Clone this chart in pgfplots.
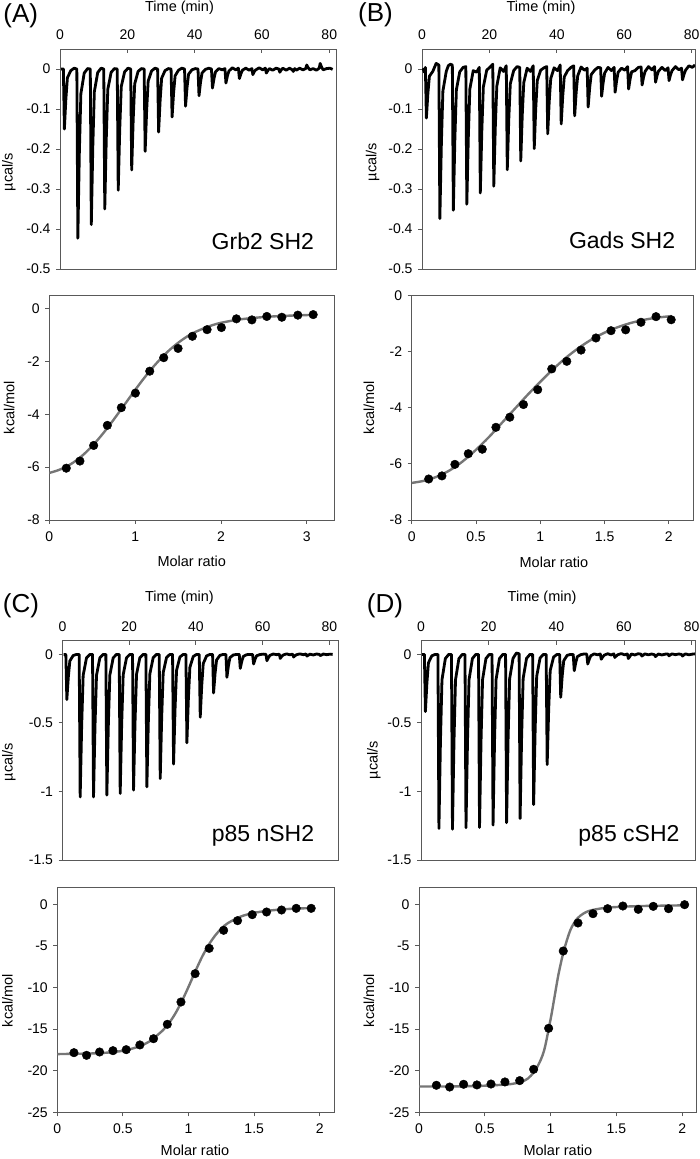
\documentclass[border=0pt]{standalone}
\usepackage{fontspec}
\setmainfont{Liberation Sans}
\usepackage{pgfplots}
\pgfplotsset{compat=1.18}
\definecolor{axgray}{RGB}{89,89,89}
\definecolor{fitgray}{RGB}{118,118,118}
\newcommand{\lblfont}{\fontsize{14.5}{17}\selectfont}
\pgfplotsset{
  every axis/.append style={
    scale only axis,
    axis line style={draw=axgray, line width=0.9pt},
    every tick/.style={draw=axgray, line width=0.9pt},
    major tick length=4pt,
    tick label style={font=\fontsize{14}{16}\selectfont},
    /pgf/number format/assume math mode=true,
    clip=true,
  },
  thermo/.style={
    width=276pt, height=220pt,
    xmin=0, ymin=-0.5, ymax=0.05,
    xtick={0,20,40,60,80},
    ytick={-0.5,-0.4,-0.3,-0.2,-0.1,0},
    xtick pos=upper, xticklabel pos=upper, ytick pos=left,
    tick align=inside,
    major y tick style={xshift=-4pt},
    xticklabel style={yshift=6pt},
    yticklabel style={xshift=-6pt},
    xlabel={Time (min)},
    ylabel={µcal/s},
  },
  iso/.style={
    xmin=0, xtick pos=lower, ytick pos=left,
    tick align=outside,
    xticklabel style={yshift=-4pt},
    yticklabel style={xshift=-2pt},
    xlabel={Molar ratio},
    ylabel={kcal/mol},
  },
  trace/.style={black, line width=2.8pt, line join=round, no markers},
  fit/.style={fitgray, line width=2.4pt, smooth, no markers},
  pts/.style={only marks, mark=*, mark size=4.3pt, mark options={fill=black, draw=black}},
}
\begin{document}
\begin{tikzpicture}
\useasboundingbox (0,0) rectangle (700pt,-1159pt);

% ---------------- (A) top
\begin{axis}[thermo, at={(60pt,-49pt)}, anchor=north west, xmax=82,
  xlabel style={font=\lblfont, at={(axis description cs:0.433,1.186)}, anchor=center},
  ylabel style={font=\lblfont, at={(axis description cs:-0.185,0.44)}, anchor=center}]
\addplot[trace] coordinates {
(0.3,0)(1.0,0)(1.3,-0.15)(1.75,-0.075)(2.2,-0.022)(3.2,-0.004)(4.2,0.002)
(5,0)(5.3,-0.423)(5.75,-0.21)(6.2,-0.062)(7.2,-0.01)(8.2,0.001)
(9,0)(9.3,-0.389)(9.75,-0.194)(10.2,-0.057)(11.2,-0.009)(12.2,0.002)
(13,0)(13.3,-0.35)(13.75,-0.175)(14.2,-0.051)(15.2,-0.008)(16.2,0.001)
(17,0)(17.3,-0.303)(17.75,-0.151)(18.2,-0.044)(19.2,-0.007)(20.2,0.002)
(21,0)(21.3,-0.2525)(21.75,-0.126)(22.2,-0.037)(23.2,-0.006)(24.2,0.001)
(25,0)(25.3,-0.206)(25.75,-0.103)(26.2,-0.03)(27.2,-0.005)(28.2,0.002)
(29,0)(29.3,-0.1575)(29.75,-0.079)(30.2,-0.023)(31.2,-0.004)(32.2,0.001)
(33,0)(33.3,-0.12)(33.75,-0.06)(34.2,-0.017)(35.2,-0.003)(36.2,0.002)
(37,0)(37.3,-0.093)(37.75,-0.046)(38.2,-0.013)(39.2,-0.002)(40.2,0.001)
(41,0)(41.3,-0.067)(41.75,-0.033)(42.2,-0.01)(43.2,-0.001)(44.2,0.002)
(45,0)(45.3,-0.0475)(45.75,-0.024)(46.2,-0.007)(47.2,0.001)(48.2,-0.002)
(49,0.001)(49.3,-0.035)(49.75,-0.017)(50.2,-0.005)(51.2,0.003)(52.2,-0.002)
(53,0.002)(53.3,-0.024)(53.75,-0.012)(54.2,-0.003)(55.2,0.002)(56.2,-0.003)
(57,0.001)(57.3,-0.014)(57.75,-0.006)(58.2,-0.002)(59.2,0.003)(60.2,-0.002)
(61,0.002)(61.3,-0.01)(61.75,-0.004)(62.2,0.001)(63.2,-0.003)(64.2,0.002)
(65,0)(65.3,-0.008)(65.75,-0.002)(66.2,0.002)(67.2,-0.003)(68.2,0.002)
(69,-0.002)(69.3,-0.006)(69.75,0.001)(70.2,-0.003)(71.2,0.002)(72.2,-0.002)
(73,0.001)(73.3,0.01)(73.75,0.003)(74.2,-0.002)(75.2,0.001)(76.2,-0.003)
(77,0.002)(77.3,0.014)(77.75,0.004)(78.2,-0.002)(79.2,0.001)(80.2,0.002)(81,-0.001)
};
\node[anchor=base, font=\fontsize{23}{26}\selectfont] at (rel axis cs:0.735,0.09) {Grb2 SH2};
\end{axis}

% ---------------- (A) bottom
\begin{axis}[iso, at={(49.3pt,-295.3pt)}, anchor=north west,
  width=285pt, height=224.7pt, xmax=3.32, ymin=-8, ymax=0.5,
  xtick={0,1,2,3}, ytick={-8,-6,-4,-2,0},
  xlabel style={font=\lblfont, at={(axis description cs:0.5,-0.186)}, anchor=center},
  ylabel style={font=\lblfont, at={(axis description cs:-0.141,0.5)}, anchor=center}]
\addplot[fit] coordinates {
(0,-6.22)(0.1,-6.12)(0.2,-5.98)(0.3,-5.78)(0.4,-5.52)(0.5,-5.2)(0.6,-4.83)(0.7,-4.42)
(0.8,-3.98)(0.9,-3.53)(1.0,-3.08)(1.1,-2.65)(1.2,-2.25)(1.3,-1.89)(1.4,-1.57)(1.5,-1.3)
(1.6,-1.07)(1.7,-0.89)(1.8,-0.75)(1.9,-0.63)(2.0,-0.54)(2.2,-0.42)(2.4,-0.35)(2.6,-0.3)
(2.8,-0.27)(3.07,-0.24)
};
\addplot[pts] coordinates {
(0.198,-6.04)(0.357,-5.77)(0.517,-5.18)(0.676,-4.42)(0.839,-3.75)(1.003,-3.20)
(1.17,-2.37)(1.333,-1.86)(1.50,-1.51)(1.667,-1.05)(1.838,-0.80)(2.005,-0.72)
(2.18,-0.39)(2.36,-0.43)(2.534,-0.30)(2.709,-0.33)(2.895,-0.25)(3.074,-0.23)
};
\end{axis}

% ---------------- (B) top
\begin{axis}[thermo, at={(422pt,-49pt)}, anchor=north west, width=273pt, xmax=81,
  xlabel style={font=\lblfont, at={(axis description cs:0.436,1.186)}, anchor=center},
  ylabel style={font=\lblfont, at={(axis description cs:-0.181,0.486)}, anchor=center}]
\addplot[trace] coordinates {
(0.3,0.002)(0.7,-0.008)(1.0,0.004)(1.3,-0.1225)(1.75,-0.061)(2.2,-0.018)(3.2,-0.006)(4.2,0.014)
(5,0.01)(5.3,-0.374)(5.75,-0.187)(6.2,-0.055)(7.2,-0.006)(7.8,0.008)(8.4,0.012)
(9,0.01)(9.3,-0.353)(9.75,-0.176)(10.2,-0.052)(11.2,-0.007)(12.2,0.004)
(13,0.006)(13.3,-0.338)(13.75,-0.169)(14.2,-0.05)(15.2,-0.004)(16.2,-0.008)
(17,0.004)(17.3,-0.31)(17.75,-0.155)(18.2,-0.045)(19.2,-0.003)(20.2,0.005)
(21,0.012)(21.3,-0.293)(21.75,-0.146)(22.2,-0.043)(23.2,0.003)(24.2,-0.006)
(25,0.008)(25.3,-0.252)(25.75,-0.126)(26.2,-0.037)(27.2,-0.004)(28.2,0.006)
(29,0.004)(29.3,-0.23)(29.75,-0.115)(30.2,-0.034)(31.2,0.002)(32.2,-0.006)
(33,0.008)(33.3,-0.199)(33.75,-0.099)(34.2,-0.029)(35.2,-0.003)(36.2,0.003)
(37,0.006)(37.3,-0.162)(37.75,-0.081)(38.2,-0.024)(39.2,0.003)(40.2,-0.004)
(41,0.01)(41.3,-0.1375)(41.75,-0.069)(42.2,-0.02)(43.2,-0.004)(44.2,0.004)
(45,0.008)(45.3,-0.117)(45.75,-0.058)(46.2,-0.017)(47.2,0.005)(48.2,-0.003)
(49,0.002)(49.3,-0.095)(49.75,-0.047)(50.2,-0.014)(51.2,-0.003)(52.2,0.004)
(53,0.003)(53.3,-0.068)(53.75,-0.034)(54.2,-0.01)(55.2,0.004)(56.2,-0.004)
(57,0.004)(57.3,-0.058)(57.75,-0.029)(58.2,-0.008)(59.2,0.002)(60.2,-0.003)
(61,0.006)(61.3,-0.05)(61.75,-0.025)(62.2,-0.007)(63.2,-0.004)(64.2,0.004)
(65,0.005)(65.3,-0.04)(65.75,-0.02)(66.2,-0.006)(67.2,0.006)(68.2,-0.002)
(69,0.006)(69.3,-0.033)(69.75,-0.016)(70.2,-0.005)(71.2,0.004)(72.2,-0.004)
(73,0.003)(73.3,-0.029)(73.75,-0.014)(74.2,-0.004)(75.2,0.006)(76.2,-0.002)
(77,0.002)(77.3,-0.027)(77.75,-0.013)(78.2,-0.003)(79.2,0.008)(80.2,0.004)(81,0.01)
};
\node[anchor=base, font=\fontsize{23}{26}\selectfont] at (rel axis cs:0.733,0.094) {Gads SH2};
\end{axis}

% ---------------- (B) bottom
\begin{axis}[iso, at={(411.7pt,-295.3pt)}, anchor=north west,
  width=281.6pt, height=224.7pt, xmax=2.19, ymin=-8, ymax=0,
  xtick={0,0.5,1,1.5,2}, ytick={-8,-6,-4,-2,0},
  xlabel style={font=\lblfont, at={(axis description cs:0.505,-0.19)}, anchor=center},
  ylabel style={font=\lblfont, at={(axis description cs:-0.152,0.5)}, anchor=center}]
\addplot[fit] coordinates {
(0,-6.68)(0.1,-6.6)(0.2,-6.45)(0.3,-6.22)(0.4,-5.9)(0.5,-5.5)(0.6,-5.05)(0.7,-4.55)
(0.8,-4.05)(0.9,-3.55)(1.0,-3.08)(1.1,-2.63)(1.2,-2.22)(1.3,-1.87)(1.4,-1.57)(1.5,-1.33)
(1.6,-1.14)(1.7,-0.99)(1.8,-0.88)(1.9,-0.8)(2.02,-0.74)
};
\addplot[pts] coordinates {
(0.132,-6.54)(0.235,-6.43)(0.336,-6.02)(0.44,-5.64)(0.549,-5.48)(0.655,-4.70)
(0.763,-4.34)(0.869,-3.89)(0.98,-3.36)(1.089,-2.62)(1.206,-2.35)(1.317,-1.95)
(1.433,-1.52)(1.55,-1.26)(1.664,-1.23)(1.783,-0.96)(1.9,-0.76)(2.018,-0.87)
};
\end{axis}

% ---------------- (C) top
\begin{axis}[thermo, at={(62.5pt,-640.7pt)}, anchor=north west, width=275.8pt, height=219.3pt,
  xmax=82.7, ymin=-1.5, ymax=0.1, ytick={-1.5,-1,-0.5,0},
  xlabel style={font=\lblfont, at={(axis description cs:0.424,1.195)}, anchor=center},
  ylabel style={font=\lblfont, at={(axis description cs:-0.194,0.447)}, anchor=center}]
\addplot[trace] coordinates {
(0.3,0)(1.0,0)(1.3,-0.33)(1.75,-0.165)(2.2,-0.048)(3.2,-0.008)(4.2,0)
(5,0)(5.3,-1.04)(5.75,-0.52)(6.2,-0.152)(7.2,-0.025)(8.2,0)
(9,0)(9.3,-1.04)(9.75,-0.52)(10.2,-0.152)(11.2,-0.025)(12.2,0)
(13,0)(13.3,-1.027)(13.75,-0.513)(14.2,-0.15)(15.2,-0.025)(16.2,0)
(17,0)(17.3,-1.015)(17.75,-0.507)(18.2,-0.148)(19.2,-0.024)(20.2,0)
(21,0)(21.3,-0.99)(21.75,-0.495)(22.2,-0.145)(23.2,-0.024)(24.2,0)
(25,0)(25.3,-0.967)(25.75,-0.483)(26.2,-0.141)(27.2,-0.023)(28.2,0)
(29,0)(29.3,-0.906)(29.75,-0.453)(30.2,-0.132)(31.2,-0.022)(32.2,0)
(33,0)(33.3,-0.8)(33.75,-0.4)(34.2,-0.117)(35.2,-0.019)(36.2,0)
(37,0)(37.3,-0.645)(37.75,-0.322)(38.2,-0.094)(39.2,-0.015)(40.2,0)
(41,0)(41.3,-0.458)(41.75,-0.229)(42.2,-0.067)(43.2,-0.011)(44.2,0)
(45,0)(45.3,-0.281)(45.75,-0.14)(46.2,-0.041)(47.2,-0.007)(48.2,0)
(49,0)(49.3,-0.167)(49.75,-0.083)(50.2,-0.024)(51.2,-0.004)(52.2,0)
(53,0)(53.3,-0.102)(53.75,-0.051)(54.2,-0.015)(55.2,-0.002)(56.2,0)
(57,0)(57.3,-0.07)(57.75,-0.035)(58.2,-0.01)(59.2,-0.001)(60.2,0.002)
(61,0)(61.3,-0.046)(61.75,-0.023)(62.2,-0.007)(63.2,0.003)(64.2,-0.002)
(65,0.002)(65.3,-0.029)(65.75,-0.014)(66.2,-0.004)(67.2,0.004)(68.2,-0.003)
(69,0.002)(69.3,-0.019)(69.75,-0.009)(70.2,-0.002)(71.2,0.004)(72.2,-0.002)
(73,0.003)(73.3,-0.012)(73.75,-0.005)(74.2,0.002)(75.2,-0.004)(76.2,0.003)
(77,0)(77.3,-0.009)(77.75,-0.003)(78.2,0.003)(79.2,-0.002)(80.2,0.002)(81,0)
};
\node[anchor=base, font=\fontsize{23}{26}\selectfont] at (rel axis cs:0.727,0.083) {p85 nSH2};
\end{axis}

% ---------------- (C) bottom
\begin{axis}[iso, at={(57.3pt,-887.7pt)}, anchor=north west,
  width=277pt, height=224.6pt, xmax=2.11, ymin=-25, ymax=2,
  xtick={0,0.5,1,1.5,2}, ytick={-25,-20,-15,-10,-5,0},
  xlabel style={font=\lblfont, at={(axis description cs:0.497,-0.168)}, anchor=center},
  ylabel style={font=\lblfont, at={(axis description cs:-0.18,0.498)}, anchor=center}]
\addplot[fit] coordinates {
(0,-18.0)(0.2,-17.95)(0.3,-17.9)(0.4,-17.8)(0.5,-17.6)(0.6,-17.2)(0.7,-16.5)(0.8,-15.2)
(0.85,-14.3)(0.9,-13.1)(0.95,-11.6)(1.0,-9.9)(1.05,-8.1)(1.1,-6.4)(1.15,-4.95)(1.2,-3.8)
(1.25,-2.9)(1.3,-2.25)(1.4,-1.45)(1.5,-1.02)(1.6,-0.78)(1.7,-0.62)(1.8,-0.52)(1.93,-0.45)
};
\addplot[pts] coordinates {
(0.127,-17.83)(0.223,-18.15)(0.322,-17.75)(0.424,-17.59)(0.525,-17.47)(0.629,-16.9)
(0.733,-16.15)(0.838,-14.42)(0.942,-11.74)(1.05,-8.33)(1.157,-5.29)(1.267,-3.12)
(1.373,-1.96)(1.485,-1.24)(1.594,-0.92)(1.708,-0.68)(1.82,-0.48)(1.934,-0.48)
};
\end{axis}

% ---------------- (D) top
\begin{axis}[thermo, at={(421pt,-640.7pt)}, anchor=north west, width=274pt, height=219.3pt,
  xmax=81, ymin=-1.5, ymax=0.1, ytick={-1.5,-1,-0.5,0},
  xlabel style={font=\lblfont, at={(axis description cs:0.442,1.195)}, anchor=center},
  ylabel style={font=\lblfont, at={(axis description cs:-0.172,0.456)}, anchor=center}]
\addplot[trace] coordinates {
(0.3,0)(1.0,0)(1.3,-0.417)(1.75,-0.208)(2.2,-0.061)(3.2,-0.01)(4.2,0)
(5,0)(5.3,-1.27)(5.75,-0.635)(6.2,-0.185)(7.2,-0.03)(8.2,0)
(9,0)(9.3,-1.275)(9.75,-0.637)(10.2,-0.186)(11.2,-0.031)(12.2,0)
(13,0)(13.3,-1.265)(13.75,-0.632)(14.2,-0.185)(15.2,-0.03)(16.2,0)
(17,0)(17.3,-1.262)(17.75,-0.631)(18.2,-0.184)(19.2,-0.03)(20.2,0)
(21,0)(21.3,-1.245)(21.75,-0.622)(22.2,-0.182)(23.2,-0.03)(24.2,0)
(25,0)(25.3,-1.228)(25.75,-0.614)(26.2,-0.179)(27.2,-0.029)(28.2,0.01)
(29,0.005)(29.3,-1.197)(29.75,-0.598)(30.2,-0.175)(31.2,-0.029)(32.2,0)
(33,0)(33.3,-1.095)(33.75,-0.547)(34.2,-0.16)(35.2,-0.026)(36.2,0)
(37,0)(37.3,-0.804)(37.75,-0.402)(38.2,-0.117)(39.2,-0.019)(40.2,0)
(41,0)(41.3,-0.313)(41.75,-0.156)(42.2,-0.046)(43.2,-0.007)(44.2,0)
(45,0)(45.3,-0.119)(45.75,-0.06)(46.2,-0.017)(47.2,-0.002)(48.2,0.003)
(49,0.002)(49.3,-0.07)(49.75,-0.035)(50.2,-0.01)(51.2,0.004)(52.2,-0.003)
(53,0.003)(53.3,-0.035)(53.75,-0.017)(54.2,-0.005)(55.2,0.005)(56.2,-0.004)
(57,0.004)(57.3,-0.022)(57.75,-0.011)(58.2,-0.002)(59.2,0.006)(60.2,-0.003)
(61,0.003)(61.3,-0.03)(61.75,-0.014)(62.2,0.003)(63.2,-0.004)(64.2,0.005)
(65,0.002)(65.3,-0.012)(65.75,-0.004)(66.2,0.004)(67.2,-0.003)(68.2,0.003)
(69,-0.002)(69.3,-0.016)(69.75,-0.006)(70.2,0.003)(71.2,-0.004)(72.2,0.002)
(73,0.003)(73.3,-0.01)(73.75,-0.003)(74.2,0.004)(75.2,-0.002)(76.2,0.003)
(77,0)(77.3,-0.012)(77.75,-0.003)(78.2,0.004)(79.2,-0.003)(80.2,0.002)(81,0.004)
};
\node[anchor=base, font=\fontsize{23}{26}\selectfont] at (rel axis cs:0.759,0.083) {p85 cSH2};
\end{axis}

% ---------------- (D) bottom
\begin{axis}[iso, at={(419pt,-887.7pt)}, anchor=north west,
  width=277.7pt, height=224.6pt, xmax=2.11, ymin=-25, ymax=2,
  xtick={0,0.5,1,1.5,2}, ytick={-25,-20,-15,-10,-5,0},
  xlabel style={font=\lblfont, at={(axis description cs:0.5,-0.168)}, anchor=center},
  ylabel style={font=\lblfont, at={(axis description cs:-0.18,0.498)}, anchor=center}]
\addplot[fit] coordinates {
(0,-21.9)(0.3,-21.88)(0.5,-21.8)(0.7,-21.6)(0.8,-21.2)(0.85,-20.6)(0.9,-19.5)(0.95,-17.6)
(1.0,-13.8)(1.03,-11.1)(1.06,-8.4)(1.1,-5.6)(1.15,-3.1)(1.2,-1.75)(1.25,-1.1)(1.3,-0.75)
(1.4,-0.45)(1.5,-0.32)(1.7,-0.2)(2.02,-0.12)
};
\addplot[pts] coordinates {
(0.132,-21.75)(0.233,-21.96)(0.339,-21.63)(0.44,-21.71)(0.547,-21.6)(0.653,-21.35)
(0.765,-21.19)(0.871,-19.83)(0.985,-14.9)(1.096,-5.61)(1.208,-2.24)(1.322,-1.12)
(1.433,-0.52)(1.549,-0.2)(1.666,-0.6)(1.78,-0.24)(1.896,-0.52)(2.018,-0.04)
};
\end{axis}

\node[font=\fontsize{26}{30}\selectfont] at (20.7pt,-16pt) {(A)};
\node[font=\fontsize{26}{30}\selectfont] at (375.5pt,-15pt) {(B)};
\node[font=\fontsize{26}{30}\selectfont] at (21pt,-606pt) {(C)};
\node[font=\fontsize{26}{30}\selectfont] at (385pt,-606pt) {(D)};
\end{tikzpicture}
\end{document}
